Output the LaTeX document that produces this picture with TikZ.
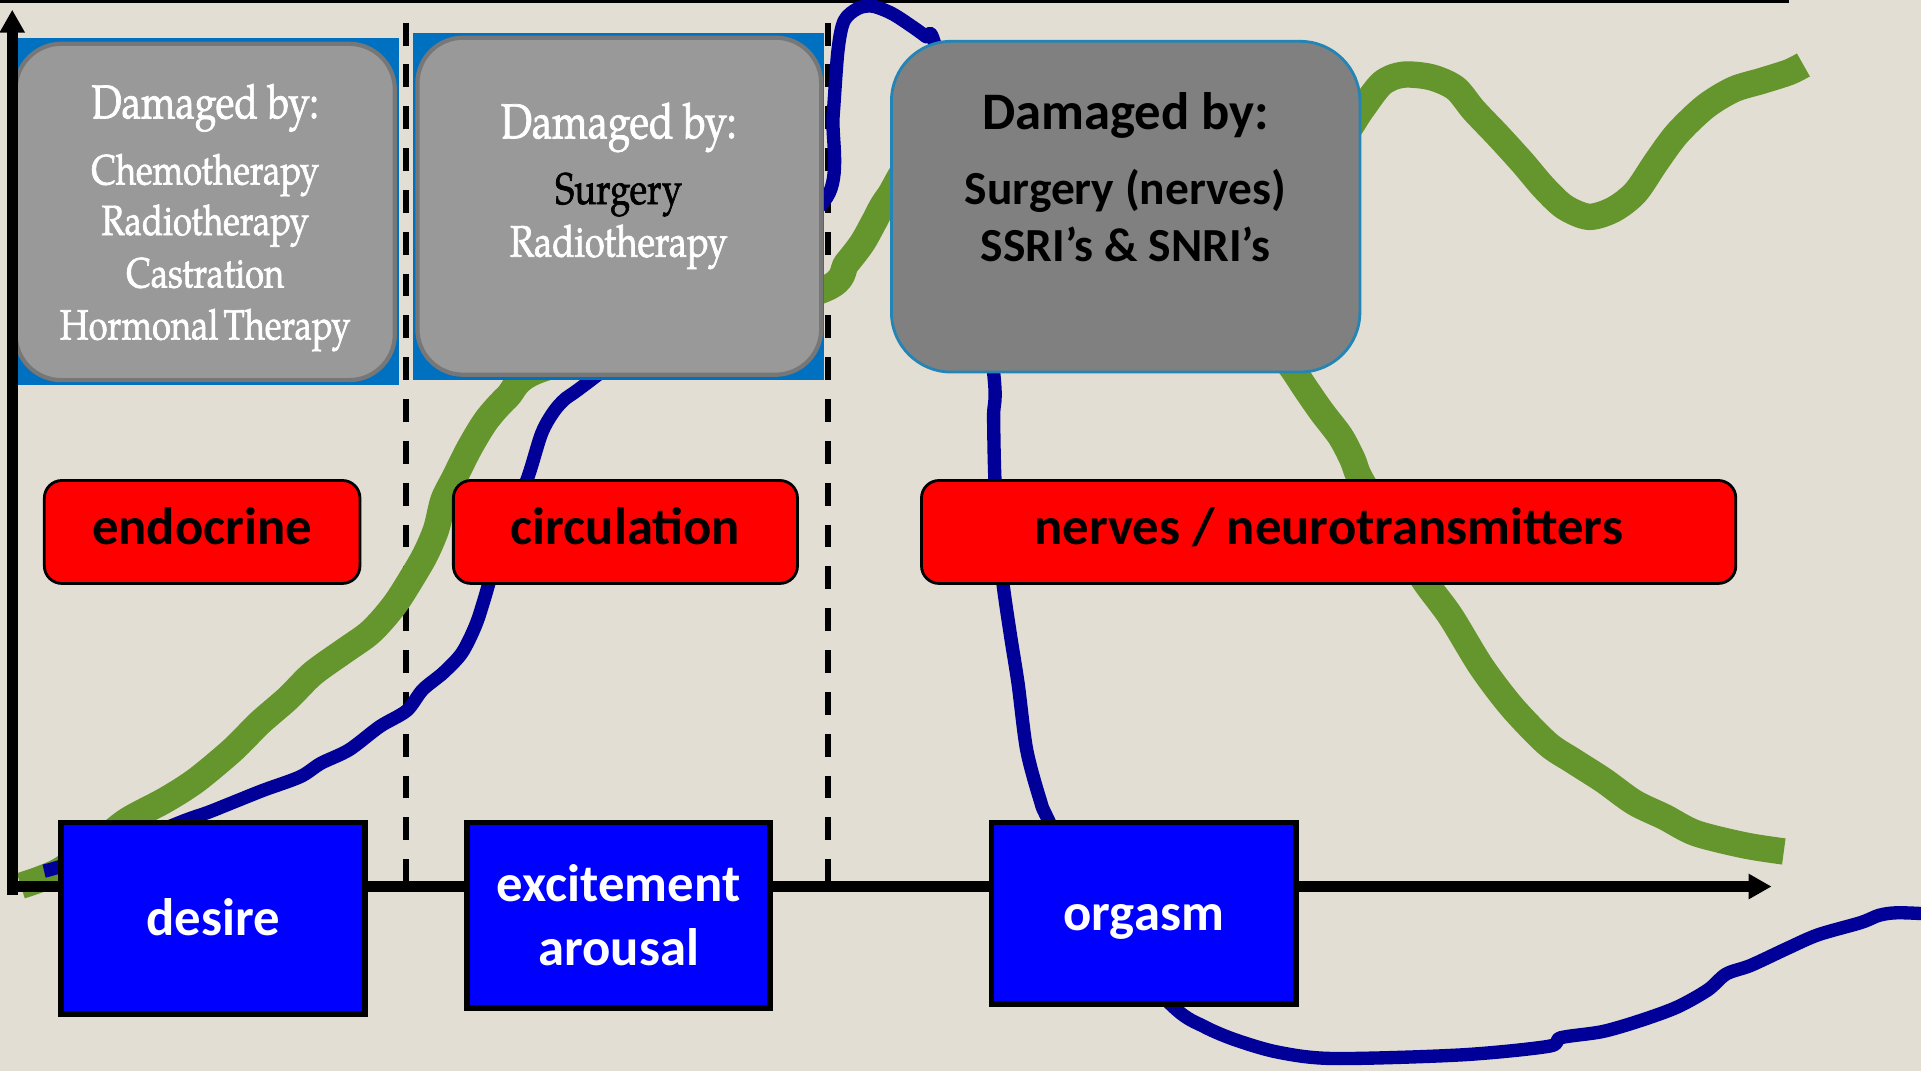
\documentclass[tikz,border=0pt]{standalone}
\usepackage{fontspec}
\setmainfont{Carlito}
\newfontfamily\bookfont[FakeStretch=0.82,FakeBold=1.5]{texgyrepagella-regular.otf}
\usetikzlibrary{arrows.meta}

\definecolor{paper}{HTML}{E3DED3}
\definecolor{grass}{HTML}{64962D}
\definecolor{navy}{HTML}{000099}
\definecolor{pureblue}{HTML}{0000FF}
\definecolor{backblue}{HTML}{0070C0}
\definecolor{boxgray}{HTML}{999999}
\definecolor{boxedge}{HTML}{777777}
\definecolor{darkbox}{HTML}{808080}
\definecolor{tealedge}{HTML}{2385B5}

\begin{document}
\begin{tikzpicture}[x=0.34858pt,y=-0.34858pt]
  \tikzset{
    backrect/.style={fill=backblue,inner sep=0pt},
    graybox/.style={draw=boxedge,fill=boxgray,line width=1.2pt,rounded corners=13pt,inner sep=0pt},
    bookline/.style={anchor=base,inner sep=0pt,text=white,font=\bookfont\fontsize{12}{14}\selectfont},
    calline/.style={anchor=base,inner sep=0pt,font=\bfseries\fontsize{13.5}{16}\selectfont},
    phasebox/.style={draw,fill=red,line width=0.8pt,rounded corners=5pt,minimum height=29.3pt,
      text height=7pt,text depth=0pt,font=\bfseries\fontsize{15}{18}\selectfont},
    stagebox/.style={draw,fill=pureblue,line width=1.6pt,text=white,align=center,
      font=\bfseries\fontsize{15}{18}\selectfont},
    divider/.style={line width=1.7pt,dash pattern=on 6.5pt off 5.4pt},
    axisline/.style={line width=3pt,arrows={-Triangle[length=6.5pt,width=6.8pt]}},
    grasscurve/.style={grass,line width=7.5pt,line join=round},
    navycurve/.style={navy,line width=3.8pt,line join=round}
  };
  \useasboundingbox (0,0) rectangle (1568,874);
  \fill[paper] (0,0) rectangle (1568,874);
  \draw[line width=0.8pt] (0,1.1) -- (1460,1.1);

  % phase borders
  \draw[divider] (331,18.5) -- (331,721);
  \draw[divider] (676,18.5) -- (676,721);

  % response curves
  \draw[grasscurve] plot[smooth,tension=0.5] coordinates {(17,723) (48,711) (84,685) (105,669)
    (135,653) (160,637) (190,612) (212,590) (235,570) (255,550) (280,532) (300,518) (312,506)
    (324,491) (336,472) (347,453) (356,432) (362,408) (371,390) (383,366) (397,343) (414,324)
    (440,302) (560,270) (673,236) (691,215) (704,198) (714,180) (725,161) (760,120) (850,150)
    (980,160) (1070,130) (1097,110) (1111,90) (1128,68) (1145,61) (1168,63) (1188,72) (1203,90)
    (1223,111) (1243,133) (1260,153) (1277,169) (1297,177) (1317,171) (1335,157) (1352,132)
    (1369,109) (1392,87) (1415,73) (1438,66) (1460,59) (1472,53)};
  \draw[grasscurve] plot[smooth,tension=0.5] coordinates {(960,110) (1030,260) (1059,307) (1078,335)
    (1094,356) (1104,375) (1111,392) (1140,440) (1164,476) (1184,503) (1209,544) (1234,577)
    (1263,607) (1284,621) (1309,637) (1334,655) (1359,667) (1384,680) (1424,690) (1456,695)};
  \draw[navycurve] plot[smooth,tension=0.5] coordinates {(36,711) (50,707) (100,690) (150,670)
    (170,663) (190,655) (215,645) (245,634) (262,623) (285,612) (310,593) (332,580) (345,563)
    (362,549) (377,533) (388,511) (395,490) (410,440) (430,392) (442,354) (452,336) (462,325)
    (480,312) (600,220) (675,161) (680,95) (684,41) (689,17) (700,7) (712,5) (728,11) (745,22)
    (756,30) (763,36) (790,150) (811,304) (811,340) (812,389) (815,440) (819,479) (825,520)
    (831,558) (838,612) (849,653) (856,670) (900,760) (958,822) (983,838) (1009,849) (1044,859)
    (1089,864) (1193,861) (1264,854) (1274,847) (1308,842) (1339,833) (1369,822) (1394,808)
    (1409,795) (1429,788) (1459,774) (1484,763) (1519,753) (1534,747) (1549,745) (1575,746)};

  % damaged by: endocrine
  \node[backrect,minimum width=110.8pt,minimum height=98.6pt] (B1) at (167,172.5) {};
  \node[graybox,minimum width=107.9pt,minimum height=95.7pt] (G1) at (167.5,173) {};
  \node[bookline,font=\bookfont\fontsize{13.5}{16}\selectfont] (G1h) at (167.5,96.6) {Damaged by:};
  \foreach \txt/\yy [count=\i] in {Chemotherapy/150.5,Radiotherapy/191.8,Castration/234.6,Hormonal\hspace{0.12em}Therapy/277}
    \node[bookline] (G1l\i) at (167.5,\yy) {\txt};

  % damaged by: circulation
  \node[backrect,minimum width=117.1pt,minimum height=98.6pt] (B2) at (505,168.5) {};
  \node[graybox,minimum width=114.9pt,minimum height=95.9pt] (G2) at (505.5,168.3) {};
  \node[bookline,font=\bookfont\fontsize{14}{16}\selectfont] (G2h) at (505,112.9) {Damaged by:};
  \node[bookline,text=black,font=\bookfont\fontsize{12.6}{15}\selectfont] (G2l1) at (505,166.5) {Surgery};
  \node[bookline,font=\bookfont\fontsize{12.6}{15}\selectfont] (G2l2) at (505,209.5) {Radiotherapy};

  % damaged by: nerves
  \node[draw=tealedge,fill=darkbox,line width=0.8pt,rounded corners=17pt,
    minimum width=133.3pt,minimum height=94.1pt] (G3) at (918.8,168.7) {};
  \node[calline,font=\bfseries\fontsize{15}{18}\selectfont] (G3h) at (918.7,106) {Damaged by:};
  \node[calline] (G3l1) at (918.7,167) {Surgery (nerves)};
  \node[calline] (G3l2) at (918.7,213.7) {SSRI’s \& SNRI’s};

  % systems
  \node[phasebox,minimum width=89.8pt] (E) at (165,434.2) {endocrine};
  \node[phasebox,minimum width=97.9pt] (C) at (510.5,434.2) {circulation};
  \node[phasebox,minimum width=231.7pt] (N) at (1084.5,434.2) {nerves / neurotransmitters};

  % axes
  \coordinate (Ybot) at (10,730.5);
  \coordinate (Ytop) at (10,8);
  \coordinate (Xleft) at (6,723.6);
  \coordinate (Xend) at (1446,723.6);
  \draw[axisline] (Ybot) -- (Ytop);
  \draw[axisline] (Xleft) -- (Xend);

  % phases
  \node[stagebox,minimum width=86.4pt,minimum height=54.5pt,text height=10pt,text depth=0pt] (Des) at (173.8,749.5) {desire};
  \node[stagebox,minimum width=86.2pt,minimum height=52.8pt] (Exc) at (505,747) {excitement\\arousal};
  \node[stagebox,minimum width=86.6pt,minimum height=51.7pt,text height=10pt,text depth=0pt] (Org) at (933.5,745.5) {orgasm};
\end{tikzpicture}
\end{document}
